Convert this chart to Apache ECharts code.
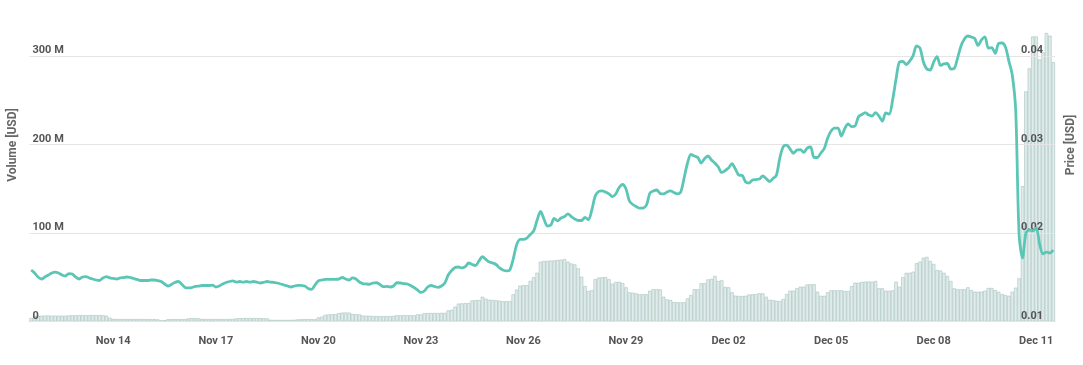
<!DOCTYPE html>
<html><head><meta charset="utf-8">
<script src="https://cdn.jsdelivr.net/npm/echarts/dist/echarts.min.js"></script>
<style>html,body{margin:0;padding:0;background:#fff}#c{width:1083px;height:365px}</style>
</head><body><div id="c"></div>
<script>
// x-axis: samples every 2.4 h (10 per day), first sample Nov 11 14:24
const tickLabels = ['Nov 14','Nov 17','Nov 20','Nov 23','Nov 26','Nov 29','Dec 02','Dec 05','Dec 08','Dec 11'];
const firstTickIndex = 24;
const tickEvery = 30;
const volumeTicksM = [0, 100, 200, 300];
const priceTicks = [0.01, 0.02, 0.03, 0.04];

// Volume in millions of USD
const volumeM = [
4,6.2,6.5,6.5,6.8,6.8,6.6,6.6,6.6,6.6,
6.5,6.9,7,7,7.2,7.2,7.2,7.2,7.3,7.3,
7.2,7,6.5,4.2,3.0,2.8,2.8,2.7,2.7,2.7,
2.8,2.8,2.8,2.7,2.7,2.6,2.6,2.4,1.3,1.5,
2.5,2.6,2.6,2.6,2.6,2.7,3.6,3.8,3.8,3.6,
2.9,2.8,2.8,2.8,2.7,2.7,2.7,2.8,2.8,2.9,
3.6,3.8,3.8,3.9,3.9,3.8,3.8,3.7,3.6,3.5,
1.9,1.8,1.8,1.7,1.7,1.7,1.8,1.9,2.4,2.5,
2.6,2.6,2.6,2.5,4.5,5.5,7.5,8,8.2,8.3,
9.5,10,10.2,10,8.5,8.2,8,6.8,6.5,6.5,
6.2,6.2,6.0,6.0,6.1,6.1,6.3,7.0,7.0,7.1,
7.1,7.0,7.0,8,8,9.4,9.5,9.6,9.6,9.6,
9.7,9.7,12.5,13.2,16.7,20.2,20.5,20.6,20.8,23.8,
24.2,24.2,28,25.8,24.5,24.3,24.0,23.5,22.8,22.8,
23.0,30.7,36,40.5,41,41,45.8,50,55,67.5,
68.5,68.5,68.8,69,69.5,69.8,70.5,67.6,65.5,64.5,
60,50.6,40,34.5,35.5,47.7,49.5,50,50.2,47.7,
42.7,44.6,44.8,43.5,38.6,33,32.5,31.8,30.7,30.8,
30.7,34.8,36.5,36.4,36.2,28,25,24.3,22,21.7,
21.5,21.7,26,30,36.4,36.4,43.2,43.2,47.5,48.2,
51.4,45.8,46.5,39,38.6,33,29.2,28.8,28.8,29,
30.5,30.7,30.9,31.8,31.8,28,24.5,24.2,23.4,23.2,
25.4,31,34.8,34.8,37.5,39.3,39.3,41.8,42,42,
33.7,29,29,33,35.2,35.2,35.2,35.2,34.5,34.5,
40,43.8,43.8,44.8,45,45.2,45,45.8,37.5,37.5,
34.8,34.6,35.2,45,39.3,50,55,55,56.3,65.8,
67.6,72,73,68.4,65,58.2,57.5,55,51.4,45.8,
37.5,36.6,36.3,36.4,38.6,35.5,33.7,33.7,33.7,34.8,
37.9,37.9,35.5,33.5,31,30,29,33.5,38.2,48.8,
153,260,286,322,322,296,304,326,323,293
];

// Price in USD
const price = [
0.01582,0.01548,0.01503,0.01480,0.01503,0.01525,0.01548,0.01559,0.01548,0.01525,
0.01514,0.01542,0.01537,0.01503,0.01480,0.01503,0.01508,0.01492,0.01480,0.01469,
0.01463,0.01492,0.01508,0.01492,0.01486,0.01480,0.01492,0.01497,0.01503,0.01497,
0.01486,0.01475,0.01463,0.01463,0.01463,0.01469,0.01469,0.01463,0.01452,0.01424,
0.01401,0.01418,0.01441,0.01452,0.01424,0.01384,0.01379,0.01384,0.01396,0.01401,
0.01407,0.01407,0.01407,0.01412,0.01390,0.01401,0.01424,0.01441,0.01452,0.01458,
0.01446,0.01452,0.01446,0.01452,0.01446,0.01452,0.01446,0.01435,0.01441,0.01452,
0.01446,0.01441,0.01435,0.01424,0.01412,0.01401,0.01390,0.01401,0.01409,0.01407,
0.01401,0.01373,0.01362,0.01412,0.01458,0.01469,0.01477,0.01477,0.01475,0.01477,
0.01480,0.01497,0.01480,0.01469,0.01492,0.01480,0.01446,0.01429,0.01424,0.01421,
0.01435,0.01438,0.01418,0.01393,0.01396,0.01390,0.01401,0.01438,0.01435,0.01429,
0.01424,0.01407,0.01384,0.01356,0.01328,0.01345,0.01390,0.01407,0.01396,0.01386,
0.01401,0.01435,0.01525,0.01576,0.01610,0.01616,0.01605,0.01621,0.01661,0.01644,
0.01633,0.01684,0.01734,0.01701,0.01672,0.01661,0.01644,0.01605,0.01582,0.01571,
0.01582,0.01706,0.01864,0.01927,0.01927,0.01943,0.01983,0.02023,0.02147,0.02243,
0.02158,0.02079,0.02090,0.02164,0.02136,0.02169,0.02186,0.02215,0.02186,0.02158,
0.02141,0.02141,0.02177,0.02149,0.02260,0.02418,0.02469,0.02477,0.02463,0.02443,
0.02412,0.02441,0.02514,0.02548,0.02497,0.02362,0.02322,0.02299,0.02280,0.02282,
0.02316,0.02452,0.02475,0.02486,0.02446,0.02441,0.02463,0.02475,0.02458,0.02441,
0.02463,0.02621,0.02791,0.02887,0.02870,0.02853,0.02791,0.02842,0.02870,0.02825,
0.02791,0.02746,0.02684,0.02706,0.02734,0.02785,0.02723,0.02655,0.02650,0.02576,
0.02565,0.02599,0.02604,0.02610,0.02644,0.02616,0.02582,0.02616,0.02653,0.02847,
0.02977,0.02994,0.02949,0.02901,0.02938,0.02943,0.02910,0.02960,0.02972,0.02853,
0.02853,0.02904,0.02955,0.03073,0.03152,0.03186,0.03186,0.03096,0.03181,0.03232,
0.03203,0.03209,0.03314,0.03339,0.03361,0.03333,0.03322,0.03361,0.03322,0.03265,
0.03356,0.03344,0.03503,0.03740,0.03932,0.03938,0.03904,0.03943,0.04005,0.04113,
0.04090,0.03932,0.03853,0.03842,0.03932,0.03994,0.03893,0.03910,0.03915,0.03853,
0.03859,0.03977,0.04113,0.04192,0.04226,0.04215,0.04198,0.04119,0.04181,0.04215,
0.04090,0.04094,0.04030,0.04141,0.04147,0.04102,0.03943,0.03785,0.03390,0.01977,
0.01717,0.02000,0.02034,0.02023,0.02056,0.01876,0.01763,0.01785,0.01774,0.01808
];

const categories = volumeM.map((_, i) => 'T' + i);
const volumeUSD = volumeM.map(v => v * 1e6);

const FONT = 'Roboto, "Noto Sans", sans-serif';
const LABEL_COLOR = '#555';
const isTick = i => i >= firstTickIndex && (i - firstTickIndex) % tickEvery === 0;

const chart = echarts.init(document.getElementById('c'), null, {renderer: 'canvas'});
chart.setOption({
  animation: false,
  backgroundColor: '#fff',
  grid: {left: 29.5, right: 28, top: 56, bottom: 43.5, containLabel: false},
  xAxis: {
    type: 'category',
    data: categories,
    boundaryGap: true,
    axisLine: {show: true, lineStyle: {color: '#c8c8c8', width: 1}},
    axisTick: {show: false},
    splitLine: {show: false},
    axisLabel: {
      interval: (i) => isTick(i),
      formatter: (v, i) => isTick(i) ? tickLabels[(i - firstTickIndex) / tickEvery] : '',
      color: LABEL_COLOR, fontFamily: FONT, fontSize: 11, fontWeight: 'bold', margin: 14
    }
  },
  yAxis: [
    {
      type: 'value', position: 'left', z: 3,
      min: volumeTicksM[0] * 1e6, max: volumeTicksM[volumeTicksM.length - 1] * 1e6, interval: 100e6,
      axisLine: {show: false}, axisTick: {show: false},
      splitLine: {show: true, lineStyle: {color: '#e5e5e5', width: 1}},
      axisLabel: {
        inside: true, margin: 3, verticalAlign: 'bottom',
        formatter: v => v === 0 ? '0' : (v / 1e6) + ' M',
        color: LABEL_COLOR, fontFamily: FONT, fontSize: 11, fontWeight: 'bold'
      }
    },
    {
      type: 'value', position: 'right', z: 3,
      min: priceTicks[0], max: priceTicks[priceTicks.length - 1], interval: 0.01,
      axisLine: {show: false}, axisTick: {show: false},
      splitLine: {show: false},
      axisLabel: {
        inside: true, margin: 12, verticalAlign: 'bottom',
        formatter: v => v.toFixed(2),
        color: LABEL_COLOR, fontFamily: FONT, fontSize: 11, fontWeight: 'bold'
      }
    }
  ],
  graphic: [
    {type: 'text', x: 13, y: 145, rotation: Math.PI / 2,
     style: {text: 'Volume [USD]', fill: '#666', font: 'bold 12px ' + FONT, align: 'center', verticalAlign: 'middle'}},
    {type: 'text', x: 1071, y: 145, rotation: Math.PI / 2,
     style: {text: 'Price [USD]', fill: '#666', font: 'bold 12px ' + FONT, align: 'center', verticalAlign: 'middle'}}
  ],
  series: [
    {
      name: 'Volume', type: 'bar', yAxisIndex: 0, data: volumeUSD, z: 1,
      barCategoryGap: '0%', clip: false,
      itemStyle: {color: '#dfecea', borderColor: '#a7c3bf', borderWidth: 0.6}
    },
    {
      name: 'Price', type: 'line', yAxisIndex: 1, data: price,
      showSymbol: false, smooth: 0.3, clip: false,
      lineStyle: {color: '#5cc6b6', width: 2.8},
      z: 5
    }
  ]
});
</script>
</body></html>
